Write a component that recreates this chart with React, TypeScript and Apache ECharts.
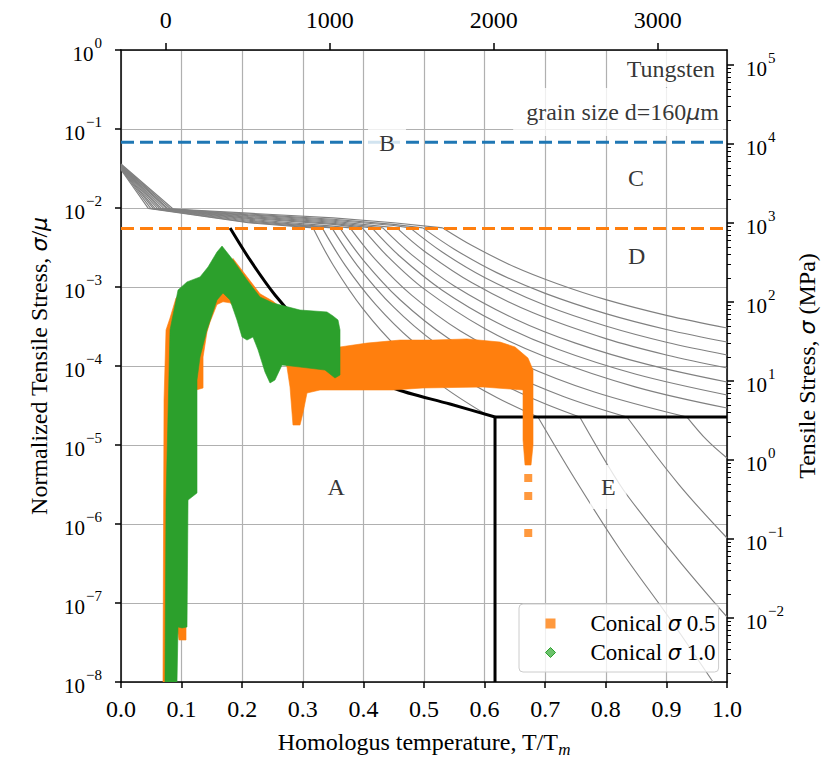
import React, { useEffect, useRef } from 'react';
import * as echarts from 'echarts';

const FONT = '"Liberation Serif", "Times New Roman", serif';
const GREEK = '"DejaVu Sans", sans-serif';
const FS = 24; // main text size
const LOG_FS = 21; // log tick label size

// Tungsten constants used for the secondary axes
const MU_MPA = 1.55e5; // shear modulus (MPa)
const ZERO_K_C = -273; // T/Tm = 0 in °C
const MELT_C = 3422; // T/Tm = 1 in °C

const celsiusTicks = [0, 1000, 2000, 3000];
const mpaMajorTicks = [1e-2, 1e-1, 1e0, 1e1, 1e2, 1e3, 1e4, 1e5];

const blueDashLevel = 0.068;
const orangeDashLevel = 0.0055;

// constant strain-rate contours: plateau part
const p01 = [[0, 0.036], [0.086, 0.0097], [0.21, 0.0086], [0.35, 0.0075], [0.45, 0.0065], [0.531, 0.0056]];
const p02 = [[0, 0.0355], [0.082, 0.0097], [0.21, 0.0084], [0.35, 0.0072], [0.45, 0.0062], [0.498, 0.0056]];
const p03 = [[0, 0.035], [0.078, 0.0097], [0.21, 0.0082], [0.35, 0.007], [0.45, 0.006], [0.477, 0.0056]];
const p04 = [[0, 0.0345], [0.075, 0.0098], [0.21, 0.008], [0.35, 0.0068], [0.455, 0.0056]];
const p05 = [[0, 0.034], [0.071, 0.0098], [0.21, 0.0078], [0.35, 0.0066], [0.432, 0.0056]];
const p06 = [[0, 0.0335], [0.067, 0.0098], [0.21, 0.0076], [0.35, 0.0064], [0.414, 0.0056]];
const p07 = [[0, 0.033], [0.064, 0.0098], [0.21, 0.0074], [0.35, 0.0062], [0.398, 0.0056]];
const p08 = [[0, 0.0325], [0.06, 0.0099], [0.21, 0.0072], [0.35, 0.0059], [0.378, 0.0056]];
const p09 = [[0, 0.032], [0.056, 0.0099], [0.21, 0.007], [0.361, 0.0056]];
const p10 = [[0, 0.0315], [0.053, 0.0099], [0.21, 0.0068], [0.348, 0.0056]];
const p11 = [[0, 0.031], [0.049, 0.0099], [0.21, 0.0066], [0.332, 0.0056]];
const p12 = [[0, 0.0305], [0.045, 0.0099], [0.21, 0.0065], [0.317, 0.0056]];

// constant strain-rate contours: creep part
const k01 = [[0.531, 0.0056], [0.58, 3.33e-3], [0.65, 1.79e-3], [0.72, 1.1e-3], [0.8, 6.92e-4], [0.9, 4.38e-4], [1.0, 3.03e-4]];
const k02 = [[0.498, 0.0056], [0.55, 3.01e-3], [0.62, 1.52e-3], [0.7, 8.3e-4], [0.8, 4.6e-4], [0.9, 2.9e-4], [1.0, 2.01e-4]];
const k03 = [[0.477, 0.0056], [0.53, 2.77e-3], [0.6, 1.32e-3], [0.7, 5.87e-4], [0.8, 3.21e-4], [0.9, 2.0e-4], [1.0, 1.38e-4]];
const k04 = [[0.455, 0.0056], [0.5, 2.86e-3], [0.58, 1.12e-3], [0.68, 4.71e-4], [0.8, 2.22e-4], [0.9, 1.38e-4], [1.0, 9.44e-5]];
const k05 = [[0.432, 0.0056], [0.48, 2.55e-3], [0.55, 1.03e-3], [0.65, 3.94e-4], [0.75, 1.95e-4], [0.87, 1.04e-4], [1.0, 6.27e-5]];
const k06 = [[0.414, 0.0056], [0.46, 2.45e-3], [0.53, 9.12e-4], [0.62, 3.55e-4], [0.72, 1.64e-4], [0.85, 7.87e-5], [1.0, 4.3e-5]];
const k07 = [[0.398, 0.0056], [0.44, 2.44e-3], [0.5, 9.46e-4], [0.6, 2.98e-4], [0.7, 1.31e-4], [0.85, 5.41e-5], [1.0, 2.94e-5]];
const k08 = [[0.378, 0.0056], [0.42, 2.22e-3], [0.48, 7.83e-4], [0.56, 2.77e-4], [0.66, 1.07e-4], [0.78, 4.73e-5], [0.934, 2.26e-5]];
const k09 = [[0.361, 0.0056], [0.4, 2.18e-3], [0.46, 6.95e-4], [0.54, 2.24e-4], [0.63, 8.83e-5], [0.73, 4.12e-5], [0.835, 2.26e-5]];
const k10 = [[0.348, 0.0056], [0.39, 1.87e-3], [0.45, 5.55e-4], [0.52, 1.92e-4], [0.6, 7.73e-5], [0.68, 3.85e-5], [0.757, 2.26e-5]];
const k11 = [[0.332, 0.0056], [0.37, 1.88e-3], [0.42, 6.03e-4], [0.48, 2.1e-4], [0.55, 8.22e-5], [0.62, 3.99e-5], [0.688, 2.26e-5]];
const k12 = [[0.317, 0.0056], [0.35, 1.9e-3], [0.4, 5.2e-4], [0.46, 1.59e-4], [0.53, 5.6e-5], [0.6, 2.5e-5]];

// contours inside region E
const e08 = [[0.934, 2.26e-5], [0.967, 1.15e-5], [1.0, 6.84e-6]];
const e09 = [[0.835, 2.26e-5], [0.92, 3.2e-6], [1.0, 6.65e-7]];
const e10 = [[0.757, 2.26e-5], [0.8, 6.1e-6], [0.835, 2.33e-6], [0.92, 3.5e-7], [1.0, 6.65e-8]];
const e11 = [[0.688, 2.26e-5], [0.749, 3.71e-6], [0.823, 4.83e-7], [0.906, 6.27e-8], [0.977, 1e-8]];

const plateaus = [p01, p02, p03, p04, p05, p06, p07, p08, p09, p10, p11, p12];
const creeps = [k01, k02, k03, k04, k05, k06, k07, k08, k09, k10, k11, k12];
const regionE = [e08, e09, e10, e11];

// black mechanism boundaries
const boundaryCurve = [[0.18, 5.58e-3], [0.2129, 2.2e-3], [0.2541, 7.92e-4], [0.2954, 3.5e-4], [0.3449, 1.6e-4], [0.3944, 8.89e-5], [0.4488, 5.27e-5], [0.5429, 3.3e-5], [0.6172, 2.26e-5]];
const boundaryLimit = [[0.6172, 2.26e-5], [1.0, 2.26e-5]];
const boundaryWall = [[0.6172, 2.26e-5], [0.6172, 1e-8]];

// Conical sigma 0.5 (orange) band outline
const conical05Outline = [
  [0.0693, 1e-8], [0.071, 3.71e-5], [0.0743, 2.86e-4], [0.0809, 4.05e-4], [0.0908, 7.26e-4], [0.1139, 9.16e-4],
  [0.1386, 9.7e-4], [0.1667, 1.03e-3], [0.1848, 2.3e-3], [0.2079, 1.35e-3], [0.2294, 8.2e-4], [0.2508, 6.6e-4],
  [0.27, 5.0e-4], [0.3, 3.8e-4], [0.3449, 2.47e-4], [0.3614, 1.74e-4], [0.4059, 1.95e-4], [0.4604, 2.13e-4],
  [0.5149, 2.13e-4], [0.571, 2.2e-4], [0.6254, 2.01e-4], [0.6502, 1.74e-4], [0.6716, 1.26e-4], [0.6799, 8.89e-5],
  [0.6799, 1.0e-5], [0.6766, 5.58e-6], [0.6667, 5.58e-6], [0.6634, 1.16e-5], [0.6634, 4.97e-5], [0.5974, 5.42e-5],
  [0.4983, 5.27e-5], [0.4488, 4.97e-5], [0.3779, 4.97e-5], [0.3284, 4.97e-5], [0.3069, 4.55e-5], [0.3003, 2.54e-5],
  [0.2954, 1.79e-5], [0.2838, 1.79e-5], [0.2789, 5.42e-5], [0.2739, 9.7e-5], [0.2541, 2.5e-4], [0.2178, 3.5e-4],
  [0.19, 5.5e-4], [0.1799, 6.3e-4], [0.1683, 6.5e-4], [0.1584, 6.0e-4], [0.1469, 3.6e-4], [0.1419, 2.7e-4],
  [0.1354, 1.3e-4], [0.1354, 5.27e-5], [0.1238, 4.97e-5], [0.1023, 3.71e-5], [0.0974, 1.16e-5],
  [0.099, 5.27e-8], [0.1073, 5.27e-8], [0.1073, 3.4e-8], [0.0957, 3.4e-8], [0.0908, 6.1e-8], [0.0858, 1e-8],
];
const conical05Squares = [[0.672, 3.82e-6], [0.672, 2.26e-6], [0.672, 7.69e-7]];

// Conical sigma 1.0 (green) band outline
const conical10Outline = [
  [0.0726, 1e-8], [0.0743, 2.01e-6], [0.0809, 2.86e-4], [0.0941, 9.16e-4], [0.1089, 1.16e-3], [0.1304, 1.34e-3],
  [0.1436, 1.79e-3], [0.1584, 2.77e-3], [0.1667, 3.3e-3], [0.1848, 2.2e-3], [0.2079, 1.23e-3], [0.2294, 7.46e-4],
  [0.2508, 6.27e-4], [0.2954, 5.11e-4], [0.3399, 4.83e-4], [0.3498, 4.3e-4], [0.3581, 3.82e-4], [0.3614, 2.86e-4],
  [0.3614, 7.69e-5], [0.3531, 7.05e-5], [0.3366, 8.89e-5], [0.2954, 9.7e-5], [0.2657, 1.03e-4], [0.2541, 6.65e-5],
  [0.2459, 6.1e-5], [0.2376, 8.4e-5], [0.2261, 1.6e-4], [0.2178, 2.33e-4], [0.2079, 2.13e-4], [0.1997, 2.33e-4],
  [0.1914, 3.82e-4], [0.1799, 6.84e-4], [0.1683, 8.39e-4], [0.1584, 6.84e-4], [0.1419, 2.86e-4], [0.1304, 1.3e-4],
  [0.1254, 6.65e-5], [0.1254, 2.47e-6], [0.1106, 2.01e-6], [0.1089, 4.97e-8], [0.1007, 4.83e-8], [0.0941, 4.97e-8],
  [0.0924, 1e-8],
];

// text annotations placed in data coordinates
const regionNames = ['A', 'B', 'C', 'D', 'E'];
const regionX = [0.355, 0.439, 0.85, 0.851, 0.804];
const regionY = [2.94e-6, 0.0665, 0.024, 2.47e-3, 2.94e-6];

const S05 = 'Conical σ 0.5';
const S10 = 'Conical σ 1.0';

const supLabel = (v: number) => {
  const e = Math.round(Math.log10(v));
  const s = e < 0 ? '\u2212' + Math.abs(e) : String(e);
  return `{b|10}{s|${s}}`;
};
const supRich = {
  b: { fontFamily: FONT, fontSize: LOG_FS, color: '#000', verticalAlign: 'bottom' },
  s: { fontFamily: FONT, fontSize: 15, color: '#000', verticalAlign: 'top', padding: [0, 0, 14, 1] },
};

const axisLineStyle = { color: '#000', width: 1.5 };
const gridLineStyle = { color: '#b0b0b0', width: 1.2 };
const greekStyle = { fontFamily: GREEK, fontStyle: 'italic', fontSize: FS - 2, color: '#000' };
const plainStyle = { fontFamily: FONT, fontSize: FS, color: '#000' };

export default function App() {
  const ref = useRef<HTMLDivElement>(null);

  useEffect(() => {
    if (!ref.current) return;
    const chart = echarts.init(ref.current, undefined, { renderer: 'svg' });

    const minorMpa: number[] = [];
    for (let d = -3; d <= 5; d++) {
      for (let m = 2; m <= 9; m++) {
        const v = m * Math.pow(10, d);
        if (v > MU_MPA * 1e-8 && v < MU_MPA) minorMpa.push(v);
      }
    }

    const grayStyle = { color: '#808080', width: 1.15 };
    const line = (data: number[][], lineStyle: any, z: number, smooth: number | boolean = false) => ({
      type: 'line',
      data,
      symbol: 'none',
      silent: true,
      smooth,
      z,
      lineStyle,
      xAxisIndex: 0,
      yAxisIndex: 0,
    });

    const band = (name: string, outline: number[][], color: string, z: number) => ({
      type: 'custom',
      name,
      xAxisIndex: 0,
      yAxisIndex: 0,
      silent: true,
      clip: true,
      z,
      itemStyle: { color },
      data: [[0.5, 1e-4]],
      renderItem: (_p: any, api: any) => ({
        type: 'polygon',
        shape: { points: outline.map((pt) => api.coord(pt)) },
        style: { fill: color, stroke: color, lineWidth: 0.6 },
      }),
    });

    const labelItems: any[] = regionNames.map((n, i) => ({
      value: [regionX[i], regionY[i]],
      label: { formatter: n, align: 'center', padding: [10, 11] },
    }));
    labelItems.push({
      value: [0.987, 0.574],
      label: { formatter: 'Tungsten', align: 'right', padding: [6, 4, 6, 12] },
    });
    labelItems.push({
      value: [0.9934, 0.164],
      label: { formatter: 'grain size d=160{g|μ}m', align: 'right', padding: [12, 4, 12, 13] },
    });

    const series: any[] = [];
    plateaus.forEach((p) => series.push(line(p, grayStyle, 2)));
    creeps.forEach((k) => series.push(line(k, grayStyle, 2, 0.35)));
    regionE.forEach((e) => series.push(line(e, grayStyle, 2, 0.35)));
    series.push(line(boundaryCurve, { color: '#000', width: 3 }, 3, 0.3));
    series.push(line(boundaryLimit, { color: '#000', width: 3 }, 3));
    series.push(line(boundaryWall, { color: '#000', width: 3 }, 3));
    series.push(line([[0, blueDashLevel], [1, blueDashLevel]], { color: '#1f77b4', width: 3, type: [13, 6] }, 3));
    series.push(line([[0, orangeDashLevel], [1, orangeDashLevel]], { color: '#ff7f0e', width: 3, type: [13, 6] }, 3));
    series.push(band(S05, conical05Outline, '#ff7f0e', 4));
    series.push({
      type: 'scatter',
      name: S05,
      data: conical05Squares,
      symbol: 'rect',
      symbolSize: 8,
      silent: true,
      z: 4,
      itemStyle: { color: '#ff7f0e', opacity: 0.8 },
      xAxisIndex: 0,
      yAxisIndex: 0,
    });
    series.push(band(S10, conical10Outline, '#2ca02c', 5));
    series.push({
      type: 'scatter',
      data: labelItems,
      symbolSize: 0,
      silent: true,
      z: 6,
      xAxisIndex: 0,
      yAxisIndex: 0,
      label: {
        show: true,
        position: [0, 0],
        verticalAlign: 'middle',
        fontFamily: FONT,
        fontSize: FS,
        color: '#000',
        backgroundColor: '#fff',
        rich: { g: greekStyle },
      },
    });

    chart.setOption({
      animation: false,
      backgroundColor: '#fff',
      grid: { left: 121, right: 100, top: 50, bottom: 77, containLabel: false, outerBoundsMode: 'none' },
      legend: {
        orient: 'vertical',
        left: 519,
        top: 604,
        selectedMode: false,
        data: [
          { name: S05, icon: 'rect', itemStyle: { color: '#ff7f0e', opacity: 0.8 } },
          { name: S10, icon: 'diamond', itemStyle: { color: '#6cc26c', borderColor: '#2ca02c', borderWidth: 1 } },
        ],
        itemWidth: 10,
        itemHeight: 10,
        itemGap: 6,
        padding: [8, 3, 8, 26],
        backgroundColor: 'rgba(255,255,255,0.8)',
        borderColor: '#cccccc',
        borderWidth: 1,
        borderRadius: 4,
        formatter: (name: string) =>
          name === S05 ? '{t|Conical }{g|σ}{t| 0.5}' : '{t|Conical }{g|σ}{t| 1.0}',
        textStyle: {
          fontFamily: FONT,
          fontSize: 23,
          padding: [0, 0, 0, 30],
          rich: {
            t: { fontFamily: FONT, fontSize: 23, color: '#000' },
            g: { fontFamily: GREEK, fontStyle: 'italic', fontSize: 21, color: '#000' },
          },
        },
      },
      xAxis: [
        {
          type: 'value',
          position: 'bottom',
          min: 0,
          max: 1,
          interval: 0.1,
          axisLine: { onZero: false, lineStyle: axisLineStyle },
          axisTick: { show: true, inside: false, length: 6, lineStyle: axisLineStyle },
          axisLabel: {
            fontFamily: FONT,
            fontSize: FS,
            color: '#000',
            margin: 15,
            formatter: (v: number) => v.toFixed(1),
          },
          splitLine: { show: true, lineStyle: gridLineStyle },
          name: '{t|Homologus temperature, T/T}{sub|m}',
          nameLocation: 'middle',
          nameGap: 48,
          nameTextStyle: {
            fontFamily: FONT,
            fontSize: FS,
            rich: {
              t: { ...plainStyle, verticalAlign: 'top' },
              sub: { fontFamily: FONT, fontSize: 17, fontStyle: 'italic', color: '#000', verticalAlign: 'bottom', padding: [11, 0, 0, 0] },
            },
          },
        },
        {
          type: 'value',
          position: 'top',
          min: ZERO_K_C,
          max: MELT_C,
          axisLine: { onZero: false, lineStyle: axisLineStyle },
          axisTick: { show: true, inside: false, length: 7, lineStyle: axisLineStyle, customValues: celsiusTicks },
          axisLabel: {
            fontFamily: FONT,
            fontSize: FS,
            color: '#000',
            margin: 18,
            customValues: celsiusTicks,
            formatter: (v: number) => String(Math.round(v)),
          },
          splitLine: { show: false },
        },
      ],
      yAxis: [
        {
          type: 'log',
          logBase: 10,
          position: 'left',
          min: 1e-8,
          max: 1,
          axisLine: { show: true, onZero: false, lineStyle: axisLineStyle },
          axisTick: { show: true, inside: false, length: 6, lineStyle: axisLineStyle },
          axisLabel: { margin: 19, formatter: supLabel, rich: supRich },
          splitLine: { show: true, lineStyle: gridLineStyle },
          minorTick: { show: false },
          name: '{t|Normalized Tensile Stress, }{g|σ}{t|/}{g|μ}',
          nameLocation: 'middle',
          nameGap: 70,
          nameTextStyle: { fontFamily: FONT, fontSize: FS, rich: { t: plainStyle, g: greekStyle } },
        },
        {
          type: 'log',
          logBase: 10,
          position: 'right',
          min: MU_MPA * 1e-8,
          max: MU_MPA,
          axisLine: { show: true, onZero: false, lineStyle: axisLineStyle },
          axisTick: { show: true, inside: false, length: 7, lineStyle: axisLineStyle, customValues: mpaMajorTicks },
          axisLabel: { margin: 19, formatter: supLabel, rich: supRich, customValues: mpaMajorTicks },
          splitLine: { show: false },
          name: '{t|Tensile Stress, }{g|σ}{t| (MPa)}',
          nameLocation: 'middle',
          nameGap: 68,
          nameTextStyle: { fontFamily: FONT, fontSize: FS, rich: { t: plainStyle, g: greekStyle } },
        },
        {
          type: 'log',
          logBase: 10,
          position: 'right',
          min: MU_MPA * 1e-8,
          max: MU_MPA,
          axisLine: { show: false, onZero: false },
          axisTick: { show: true, inside: false, length: 4, lineStyle: { color: '#000', width: 1 }, customValues: minorMpa },
          axisLabel: { show: false },
          splitLine: { show: false },
        },
      ],
      series,
    });

    return () => chart.dispose();
  }, []);

  return (
    <div
      ref={ref}
      style={{ position: 'fixed', left: 0, top: 0, width: 827, height: 759, background: '#fff', overflow: 'hidden' }}
    />
  );
}
